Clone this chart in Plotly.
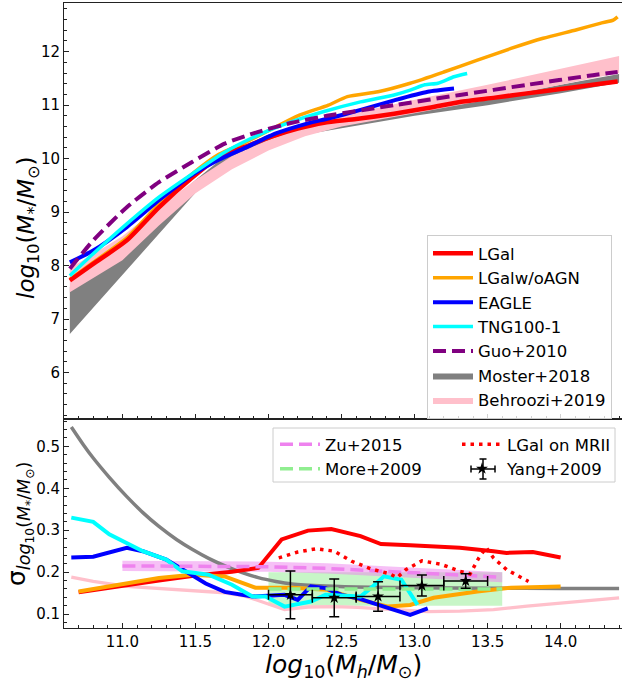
import plotly.graph_objects as go

# ---------------- top panel data ----------------
x_lgal = [10.64, 10.8, 11.03, 11.25, 11.48, 11.66, 11.84, 12.02, 12.2, 12.38, 12.6, 12.86, 13.1, 13.31, 13.55, 13.77, 14.0, 14.22, 14.39]
y_lgal = [7.72, 8.03, 8.47, 9.09, 9.65, 10.03, 10.22, 10.41, 10.56, 10.67, 10.74, 10.84, 10.95, 11.06, 11.14, 11.22, 11.3, 11.38, 11.44]

x_noagn = [10.64, 10.8, 11.03, 11.25, 11.48, 11.66, 11.84, 12.02, 12.2, 12.41, 12.54, 12.75, 12.97, 13.2, 13.43, 13.66, 13.88, 14.11, 14.27, 14.36, 14.39]
y_noagn = [7.74, 8.06, 8.52, 9.15, 9.72, 10.08, 10.3, 10.55, 10.8, 11.0, 11.16, 11.25, 11.41, 11.62, 11.84, 12.06, 12.25, 12.41, 12.53, 12.59, 12.65]

x_eagle = [10.64, 10.8, 11.03, 11.25, 11.48, 11.66, 11.84, 12.05, 12.27, 12.41, 12.63, 12.86, 13.09, 13.27]
y_eagle = [8.06, 8.28, 8.72, 9.22, 9.7, 9.98, 10.2, 10.47, 10.66, 10.75, 10.91, 11.09, 11.25, 11.31]

x_tng = [10.64, 10.8, 11.03, 11.25, 11.48, 11.7, 11.93, 12.16, 12.38, 12.63, 12.86, 12.97, 13.07, 13.16, 13.27, 13.36]
y_tng = [7.81, 8.22, 8.78, 9.28, 9.72, 10.12, 10.44, 10.69, 10.88, 11.06, 11.19, 11.28, 11.38, 11.41, 11.53, 11.59]

x_guo = [10.64, 10.8, 11.03, 11.25, 11.48, 11.7, 11.93, 12.16, 12.4, 12.86, 13.31, 13.77, 14.22, 14.39]
y_guo = [7.94, 8.47, 9.09, 9.56, 9.94, 10.28, 10.5, 10.67, 10.8, 11.0, 11.19, 11.38, 11.56, 11.62]

x_band = [10.64, 11.0, 11.25, 11.5, 11.75, 12.0, 12.25, 12.5, 13.0, 13.5, 14.0, 14.4]
moster_lo = [6.72, 7.83, 8.6, 9.36, 9.9, 10.25, 10.45, 10.57, 10.8, 11.0, 11.22, 11.42]
moster_hi = [7.6, 8.45, 9.0, 9.6, 10.15, 10.45, 10.58, 10.7, 10.92, 11.12, 11.38, 11.58]
behroozi_lo = [7.5, 8.1, 8.75, 9.35, 9.8, 10.15, 10.42, 10.6, 10.85, 11.1, 11.38, 11.6]
behroozi_hi = [7.95, 8.55, 9.1, 9.6, 10.05, 10.35, 10.6, 10.8, 11.1, 11.38, 11.68, 11.92]

# ---------------- bottom panel data ----------------
xs_gray = [10.65, 10.73, 10.8, 10.91, 11.03, 11.14, 11.25, 11.37, 11.48, 11.59, 11.71, 11.82, 11.93, 12.05, 12.16, 12.39, 12.7, 13.0, 13.5, 14.0, 14.4]
ys_gray = [0.546, 0.505, 0.472, 0.426, 0.38, 0.342, 0.309, 0.278, 0.254, 0.233, 0.214, 0.199, 0.187, 0.178, 0.172, 0.167, 0.164, 0.163, 0.162, 0.161, 0.161]

xs_pink = [10.65, 10.8, 11.03, 11.25, 11.48, 11.7, 11.84, 11.98, 12.11, 12.27, 12.45, 12.61, 12.86, 13.09, 13.31, 13.54, 13.77, 14.0, 14.4]
ys_pink = [0.188, 0.178, 0.166, 0.161, 0.156, 0.151, 0.143, 0.127, 0.111, 0.117, 0.118, 0.116, 0.111, 0.106, 0.107, 0.111, 0.119, 0.127, 0.139]

xs_red = [10.7, 11.0, 11.25, 11.5, 11.75, 11.93, 12.09, 12.27, 12.43, 12.63, 12.77, 12.97, 13.31, 13.54, 13.63, 13.81, 14.0]
ys_red = [0.152, 0.168, 0.18, 0.192, 0.201, 0.21, 0.278, 0.299, 0.303, 0.286, 0.267, 0.264, 0.258, 0.25, 0.246, 0.248, 0.235]

xs_orange = [10.7, 11.03, 11.25, 11.48, 11.7, 11.91, 12.16, 12.4, 12.63, 12.82, 12.97, 13.13, 13.43, 13.66, 14.0]
ys_orange = [0.154, 0.174, 0.186, 0.194, 0.19, 0.163, 0.163, 0.158, 0.134, 0.118, 0.122, 0.139, 0.154, 0.163, 0.166]

xs_blue = [10.65, 10.8, 11.03, 11.14, 11.3, 11.45, 11.57, 11.7, 11.89, 12.11, 12.2, 12.29, 12.39, 12.5, 12.61, 12.79, 12.97, 13.09]
ys_blue = [0.235, 0.237, 0.258, 0.25, 0.23, 0.197, 0.173, 0.153, 0.142, 0.146, 0.134, 0.166, 0.162, 0.146, 0.138, 0.118, 0.098, 0.114]

xs_cyan = [10.65, 10.8, 10.91, 11.03, 11.14, 11.3, 11.41, 11.59, 11.75, 11.89, 11.98, 12.11, 12.29, 12.39, 12.63, 12.7, 12.79, 12.91, 13.02]
ys_cyan = [0.33, 0.32, 0.29, 0.27, 0.25, 0.23, 0.202, 0.194, 0.17, 0.142, 0.142, 0.118, 0.13, 0.146, 0.142, 0.162, 0.19, 0.182, 0.122]

xs_mrii = [12.07, 12.2, 12.33, 12.45, 12.57, 12.7, 12.83, 12.88, 12.94, 13.05, 13.18, 13.31, 13.38, 13.44, 13.49, 13.54, 13.63, 13.75, 13.78]
ys_mrii = [0.234, 0.248, 0.256, 0.25, 0.226, 0.208, 0.196, 0.187, 0.206, 0.227, 0.219, 0.202, 0.196, 0.234, 0.259, 0.234, 0.206, 0.184, 0.178]

x_zu = [11.0, 12.0, 12.4, 13.0, 13.6]
y_zu = [0.215, 0.213, 0.209, 0.199, 0.188]
zu_halfwidth = 0.012

x_more = [12.0, 13.6]
y_more = [0.16, 0.16]
more_lo = [0.12, 0.12]
more_hi = [0.2, 0.2]

x_yang = [12.15, 12.45, 12.75, 13.05, 13.35]
y_yang = [0.146, 0.139, 0.142, 0.168, 0.179]
yerr_yang = [0.057, 0.045, 0.035, 0.025, 0.017]
xerr_yang = [0.15, 0.15, 0.15, 0.15, 0.15]

x_ticks = [11.0, 11.5, 12.0, 12.5, 13.0, 13.5, 14.0]
y_top_ticks = [6, 7, 8, 9, 10, 11, 12]
y_bot_ticks = [0.1, 0.2, 0.3, 0.4, 0.5]

FONT = "DejaVu Sans"
fig = go.Figure()

def band(x, lo, hi):
    return list(x) + list(x)[::-1], list(lo) + list(hi)[::-1]

SP = dict(shape="spline", smoothing=0.6)

# ---- top panel ----
bx, by = band(x_band, moster_lo, moster_hi)
fig.add_trace(go.Scatter(x=bx, y=by, fill="toself", fillcolor="#808080", line=dict(width=0),
                         mode="lines", name="Moster+2018", legendrank=6, xaxis="x2", yaxis="y2", hoverinfo="skip"))
bx, by = band(x_band, behroozi_lo, behroozi_hi)
fig.add_trace(go.Scatter(x=bx, y=by, fill="toself", fillcolor="#ffc0cb", line=dict(width=0),
                         mode="lines", name="Behroozi+2019", legendrank=7, xaxis="x2", yaxis="y2", hoverinfo="skip"))
fig.add_trace(go.Scatter(x=x_noagn, y=y_noagn, mode="lines", line=dict(color="orange", width=3.5, **SP),
                         name="LGalw/oAGN", legendrank=2, xaxis="x2", yaxis="y2"))
fig.add_trace(go.Scatter(x=x_lgal, y=y_lgal, mode="lines", line=dict(color="red", width=4.5, **SP),
                         name="LGal", legendrank=1, xaxis="x2", yaxis="y2"))
fig.add_trace(go.Scatter(x=x_eagle, y=y_eagle, mode="lines", line=dict(color="blue", width=4, **SP),
                         name="EAGLE", legendrank=3, xaxis="x2", yaxis="y2"))
fig.add_trace(go.Scatter(x=x_tng, y=y_tng, mode="lines", line=dict(color="cyan", width=3.5, **SP),
                         name="TNG100-1", legendrank=4, xaxis="x2", yaxis="y2"))
fig.add_trace(go.Scatter(x=x_guo, y=y_guo, mode="lines", line=dict(color="purple", width=4, dash="13px,6px", **SP),
                         name="Guo+2010", legendrank=5, xaxis="x2", yaxis="y2"))

# ---- bottom panel ----
bx, by = band(x_more, more_lo, more_hi)
fig.add_trace(go.Scatter(x=bx, y=by, fill="toself", fillcolor="rgba(144,238,144,0.5)", line=dict(width=0),
                         mode="lines", showlegend=False, hoverinfo="skip"))
bx, by = band(x_zu, [v - zu_halfwidth for v in y_zu], [v + zu_halfwidth for v in y_zu])
fig.add_trace(go.Scatter(x=bx, y=by, fill="toself", fillcolor="rgba(238,130,238,0.5)", line=dict(width=0),
                         mode="lines", showlegend=False, hoverinfo="skip"))
fig.add_trace(go.Scatter(x=xs_pink, y=ys_pink, mode="lines", line=dict(color="pink", width=3.3), showlegend=False))
fig.add_trace(go.Scatter(x=xs_gray, y=ys_gray, mode="lines", line=dict(color="gray", width=3.5, **SP), showlegend=False))
fig.add_trace(go.Scatter(x=xs_red, y=ys_red, mode="lines", line=dict(color="red", width=4), showlegend=False))
fig.add_trace(go.Scatter(x=xs_orange, y=ys_orange, mode="lines", line=dict(color="orange", width=4), showlegend=False))
fig.add_trace(go.Scatter(x=xs_blue, y=ys_blue, mode="lines", line=dict(color="blue", width=4), showlegend=False))
fig.add_trace(go.Scatter(x=xs_cyan, y=ys_cyan, mode="lines", line=dict(color="cyan", width=4), showlegend=False))
fig.add_trace(go.Scatter(x=x_zu, y=y_zu, mode="lines", line=dict(color="violet", width=3.5, dash="13px,6px"),
                         name="Zu+2015", legend="legend2"))
fig.add_trace(go.Scatter(x=x_more, y=y_more, mode="lines", line=dict(color="lightgreen", width=3.5, dash="13px,6px"),
                         name="More+2009", legend="legend2"))
fig.add_trace(go.Scatter(x=xs_mrii, y=ys_mrii, mode="lines", line=dict(color="red", width=3.5, dash="3.5px,5px"),
                         name="LGal on MRII", legend="legend3"))
fig.add_trace(go.Scatter(x=x_yang, y=y_yang, mode="markers",
                         marker=dict(symbol="star", color="black", size=9),
                         error_y=dict(type="data", array=yerr_yang, color="black", thickness=1.5, width=5),
                         error_x=dict(type="data", array=xerr_yang, color="black", thickness=1.5, width=5),
                         name="Yang+2009", legend="legend3"))

W, H = 622, 682
ML, MR, MT, MB = 64, 0, 3, 54
PW, PH = W - ML - MR, H - MT - MB
def px2paper_x(px):
    return (px - ML) / PW
def py2paper_y(py):
    return (H - MB - py) / PH

split = py2paper_y(419)
tickfont = dict(family=FONT, size=15, color="black")
axis_common = dict(showline=True, linecolor="#222", linewidth=1, ticks="inside", ticklen=5,
                   tickcolor="#222", showgrid=False, zeroline=False, tickfont=tickfont)

LEG3_X = 457
fig.update_layout(
    width=W, height=H, margin=dict(l=ML, r=MR, t=MT, b=MB),
    plot_bgcolor="white", paper_bgcolor="white",
    font=dict(family=FONT, color="black"),
    xaxis=dict(domain=[0, 1], range=[10.6, 14.42], anchor="y", tickvals=x_ticks,
               ticktext=[f"{v:.1f}" for v in x_ticks], mirror=True,
               minor=dict(dtick=0.1, tick0=10.0, ticks="inside", ticklen=3, tickcolor="#222"),
               **axis_common),
    yaxis=dict(domain=[0, split], range=[0.067, 0.565], anchor="x", tickvals=y_bot_ticks,
               ticktext=[f"{v:.1f}" for v in y_bot_ticks],
               minor=dict(dtick=0.02, tick0=0.0, ticks="inside", ticklen=3, tickcolor="#222"),
               **axis_common),
    xaxis2=dict(domain=[0, 1], range=[10.6, 14.42], anchor="y2", matches="x", tickvals=x_ticks,
                showticklabels=False, mirror=True,
                minor=dict(dtick=0.1, tick0=10.0, ticks="inside", ticklen=3, tickcolor="#222"),
                **axis_common),
    yaxis2=dict(domain=[split, 1], range=[5.13, 12.91], anchor="x2", tickvals=y_top_ticks,
                ticktext=[str(v) for v in y_top_ticks],
                minor=dict(dtick=0.2, tick0=0.0, ticks="inside", ticklen=3, tickcolor="#222"),
                **axis_common),
    legend=dict(x=px2paper_x(427), y=py2paper_y(235), xanchor="left", yanchor="top",
                bgcolor="rgba(255,255,255,0.8)", bordercolor="#cccccc", borderwidth=1,
                font=dict(family=FONT, size=16.5, color="black"), itemwidth=40,
                traceorder="normal"),
    legend2=dict(x=px2paper_x(275), y=py2paper_y(427), xanchor="left", yanchor="top",
                 bgcolor="rgba(0,0,0,0)", borderwidth=0,
                 font=dict(family=FONT, size=16.5, color="black"), itemwidth=40),
    legend3=dict(x=px2paper_x(LEG3_X), y=py2paper_y(427), xanchor="left", yanchor="top",
                 bgcolor="rgba(0,0,0,0)", borderwidth=0,
                 font=dict(family=FONT, size=16.5, color="black"), itemwidth=40),
    showlegend=True,
)

fig.add_shape(type="rect", xref="paper", yref="paper",
              x0=px2paper_x(273), x1=px2paper_x(615), y0=py2paper_y(482), y1=py2paper_y(428),
              line=dict(color="#cccccc", width=1), fillcolor="rgba(255,255,255,0.8)", layer="above")

# error-bar glyph around the Yang+2009 legend star
cx, cy = LEG3_X + 26, 469
for (ax0, ay0, ax1, ay1) in [(cx - 12, cy, cx + 12, cy), (cx, cy - 10, cx, cy + 10),
                             (cx - 12, cy - 3.5, cx - 12, cy + 3.5), (cx + 12, cy - 3.5, cx + 12, cy + 3.5),
                             (cx - 3.5, cy - 10, cx + 3.5, cy - 10), (cx - 3.5, cy + 10, cx + 3.5, cy + 10)]:
    fig.add_shape(type="line", xref="paper", yref="paper",
                  x0=px2paper_x(ax0), y0=py2paper_y(ay0), x1=px2paper_x(ax1), y1=py2paper_y(ay1),
                  line=dict(color="black", width=1.5), layer="above")

fig.add_annotation(xref="paper", yref="paper", x=px2paper_x(343), y=py2paper_y(666),
                   text="<i>log</i><sub>10</sub>(<i>M</i><sub><i>h</i></sub>/<i>M</i><sub>⊙</sub>)",
                   showarrow=False, font=dict(family=FONT, size=25, color="black"),
                   xanchor="center", yanchor="middle")
fig.add_annotation(xref="paper", yref="paper", x=px2paper_x(28), y=py2paper_y(228),
                   text="<i>log</i><sub>10</sub>(<i>M</i><sub>*</sub>/<i>M</i><sub>⊙</sub>)",
                   showarrow=False, textangle=-90, font=dict(family=FONT, size=23, color="black"),
                   xanchor="center", yanchor="middle")
fig.add_annotation(xref="paper", yref="paper", x=px2paper_x(19), y=py2paper_y(524),
                   text="σ<sub><i>log</i><sub>10</sub>(<i>M</i><sub>*</sub>/<i>M</i><sub>⊙</sub>)</sub>",
                   showarrow=False, textangle=-90, font=dict(family=FONT, size=25, color="black"),
                   xanchor="center", yanchor="middle")

fig.write_html("out.html")
